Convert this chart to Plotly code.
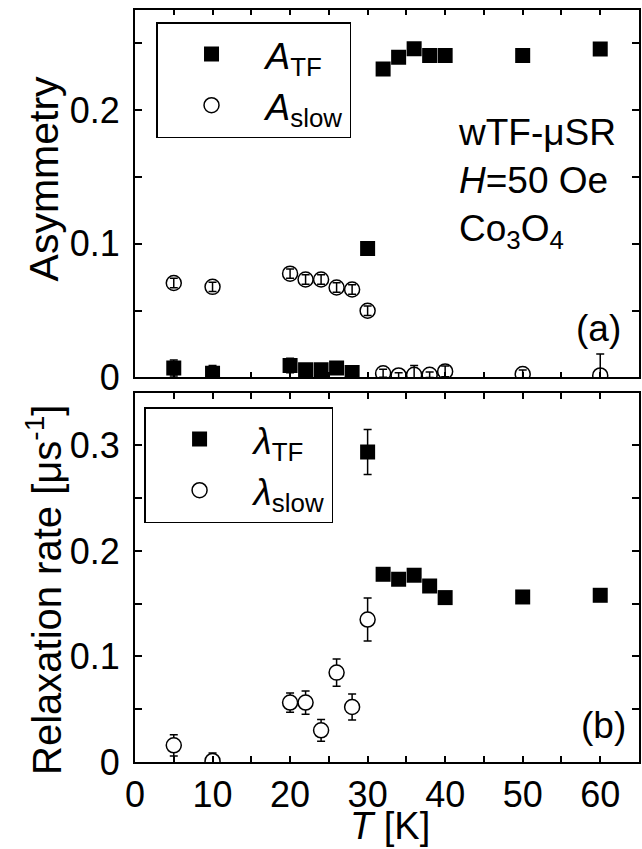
import plotly.graph_objects as go

# ---------------- data ----------------
T_A = [5, 10, 20, 22, 24, 26, 28, 30, 32, 34, 36, 38, 40, 50, 60]
A_TF = [0.0069, 0.0031, 0.0088, 0.0056, 0.0056, 0.0069, 0.0036, 0.0965,
        0.2309, 0.2396, 0.2460, 0.2410, 0.2410, 0.2410, 0.2458]
A_TF_err = [0.006, 0.0057, 0.0055, 0.003, 0.003, 0.003, 0.003, 0.002,
            0.002, 0.002, 0.002, 0.002, 0.002, 0.002, 0.002]
A_slow = [0.0706, 0.0677, 0.0776, 0.0732, 0.0732, 0.0672, 0.0657, 0.0498,
          0.0030, 0.0014, 0.0019, 0.0019, 0.0044, 0.0024, 0.0014]
A_slow_err = [0.0035, 0.0035, 0.0035, 0.0035, 0.0035, 0.0035, 0.0035, 0.0035,
              0.003, 0.002, 0.007, 0.002, 0.004, 0.003, 0.016]

T_lTF = [30, 32, 34, 36, 38, 40, 50, 60]
lam_TF = [0.2938, 0.1779, 0.1732, 0.1770, 0.1668, 0.1558, 0.1564, 0.1580]
lam_TF_err = [0.0214, 0.003, 0.003, 0.003, 0.003, 0.003, 0.003, 0.003]

T_lslow = [5, 10, 20, 22, 24, 26, 28, 30]
lam_slow = [0.0158, 0.0010, 0.0563, 0.0563, 0.0300, 0.0847, 0.0521, 0.1350]
lam_slow_err = [0.010, 0.0075, 0.0092, 0.011, 0.0103, 0.0128, 0.0124, 0.0204]

x_ticks = [0, 10, 20, 30, 40, 50, 60]

FONT = "Liberation Sans, Arial, sans-serif"
MS = 15

fig = go.Figure()

def err(arr):
    return dict(type="data", array=arr, color="black", thickness=1.5, width=4)

# top panel
fig.add_trace(go.Scatter(x=T_A, y=A_TF, mode="markers", name="<i>A</i><sub>TF</sub>",
                         marker=dict(symbol="square", size=MS, color="black", line=dict(width=0)),
                         error_y=err(A_TF_err), xaxis="x2", yaxis="y2", legend="legend"))
fig.add_trace(go.Scatter(x=T_A, y=A_slow, mode="markers", name="<i>A</i><sub>slow</sub>",
                         marker=dict(symbol="circle-open", size=MS, color="black", line=dict(width=1.5)),
                         error_y=err(A_slow_err), xaxis="x2", yaxis="y2", legend="legend"))
# bottom panel
fig.add_trace(go.Scatter(x=T_lTF, y=lam_TF, mode="markers", name="<i>λ</i><sub>TF</sub>",
                         marker=dict(symbol="square", size=MS, color="black", line=dict(width=0)),
                         error_y=err(lam_TF_err), xaxis="x", yaxis="y", legend="legend2"))
fig.add_trace(go.Scatter(x=T_lslow, y=lam_slow, mode="markers", name="<i>λ</i><sub>slow</sub>",
                         marker=dict(symbol="circle", size=MS, color="white",
                                     line=dict(width=1.5, color="black")),
                         error_y=err(lam_slow_err), xaxis="x", yaxis="y", legend="legend2"))

axis_common = dict(showline=True, linewidth=2, linecolor="black", mirror="ticks",
                   ticks="inside", tickcolor="black", tickwidth=1.5,
                   showgrid=False, zeroline=False, automargin=False)

fig.update_layout(
    width=642, height=849,
    margin=dict(l=135, r=3, t=10, b=87),
    paper_bgcolor="white", plot_bgcolor="white",
    font=dict(family=FONT, color="black"),
    xaxis=dict(domain=[0, 1], anchor="y", range=[0, 65], tickvals=x_ticks,
               ticklen=6, minor=dict(dtick=5, ticklen=6, ticks="inside", tickcolor="black", tickwidth=1.5),
               tickfont=dict(size=36),
               **axis_common),
    yaxis=dict(domain=[0, 0.4911], anchor="x", range=[0, 0.35], dtick=0.1,
               ticklen=7, minor=dict(dtick=0.05, ticklen=7, ticks="inside", tickcolor="black", tickwidth=1.5),
               tickfont=dict(size=36), ticklabelstandoff=6,
               **axis_common),
    xaxis2=dict(domain=[0, 1], anchor="y2", range=[0, 65], tickvals=x_ticks,
                showticklabels=False,
                ticklen=5, minor=dict(dtick=5, ticklen=5, ticks="inside", tickcolor="black", tickwidth=1.5),
                **axis_common),
    yaxis2=dict(domain=[0.5116, 1], anchor="x2", range=[0, 0.275], dtick=0.1,
                ticklen=7, minor=dict(dtick=0.05, ticklen=7, ticks="inside", tickcolor="black", tickwidth=1.5),
                tickfont=dict(size=36), ticklabelstandoff=6,
                **axis_common),
    legend=dict(x=0.0417, y=0.984, xanchor="left", yanchor="top",
                bordercolor="black", borderwidth=1.5, bgcolor="white",
                font=dict(size=37, family=FONT), itemwidth=98, tracegroupgap=0),
    legend2=dict(x=0.018, y=0.472, xanchor="left", yanchor="top",
                 bordercolor="black", borderwidth=1.5, bgcolor="white",
                 font=dict(size=37, family=FONT), itemwidth=98, tracegroupgap=0),
    showlegend=True,
)

annots = [
    dict(text="wTF-μSR<br><i>H</i>=50 Oe<br>Co<sub>3</sub>O<sub>4</sub>", x=0.637, y=0.867,
         xanchor="left", yanchor="top", align="left", font=dict(size=37)),
    dict(text="(a)", x=0.968, y=0.5765, xanchor="right", yanchor="middle", font=dict(size=37)),
    dict(text="(b)", x=0.978, y=0.0492, xanchor="right", yanchor="middle", font=dict(size=37)),
    dict(text="Asymmetry", x=-0.1806, y=0.776, xanchor="center", yanchor="middle",
         textangle=-90, font=dict(size=41)),
    dict(text="Relaxation rate [μs<sup>-1</sup>]", x=-0.1806, y=0.2287, xanchor="center",
         yanchor="middle", textangle=-90, font=dict(size=40)),
    dict(text="<i>T</i> [K]", x=0.506, y=-0.0851, xanchor="center", yanchor="middle",
         font=dict(size=38), borderpad=0),
]
for a in annots:
    a.update(xref="paper", yref="paper", showarrow=False)
    fig.add_annotation(**a)

fig.write_html("out.html")
